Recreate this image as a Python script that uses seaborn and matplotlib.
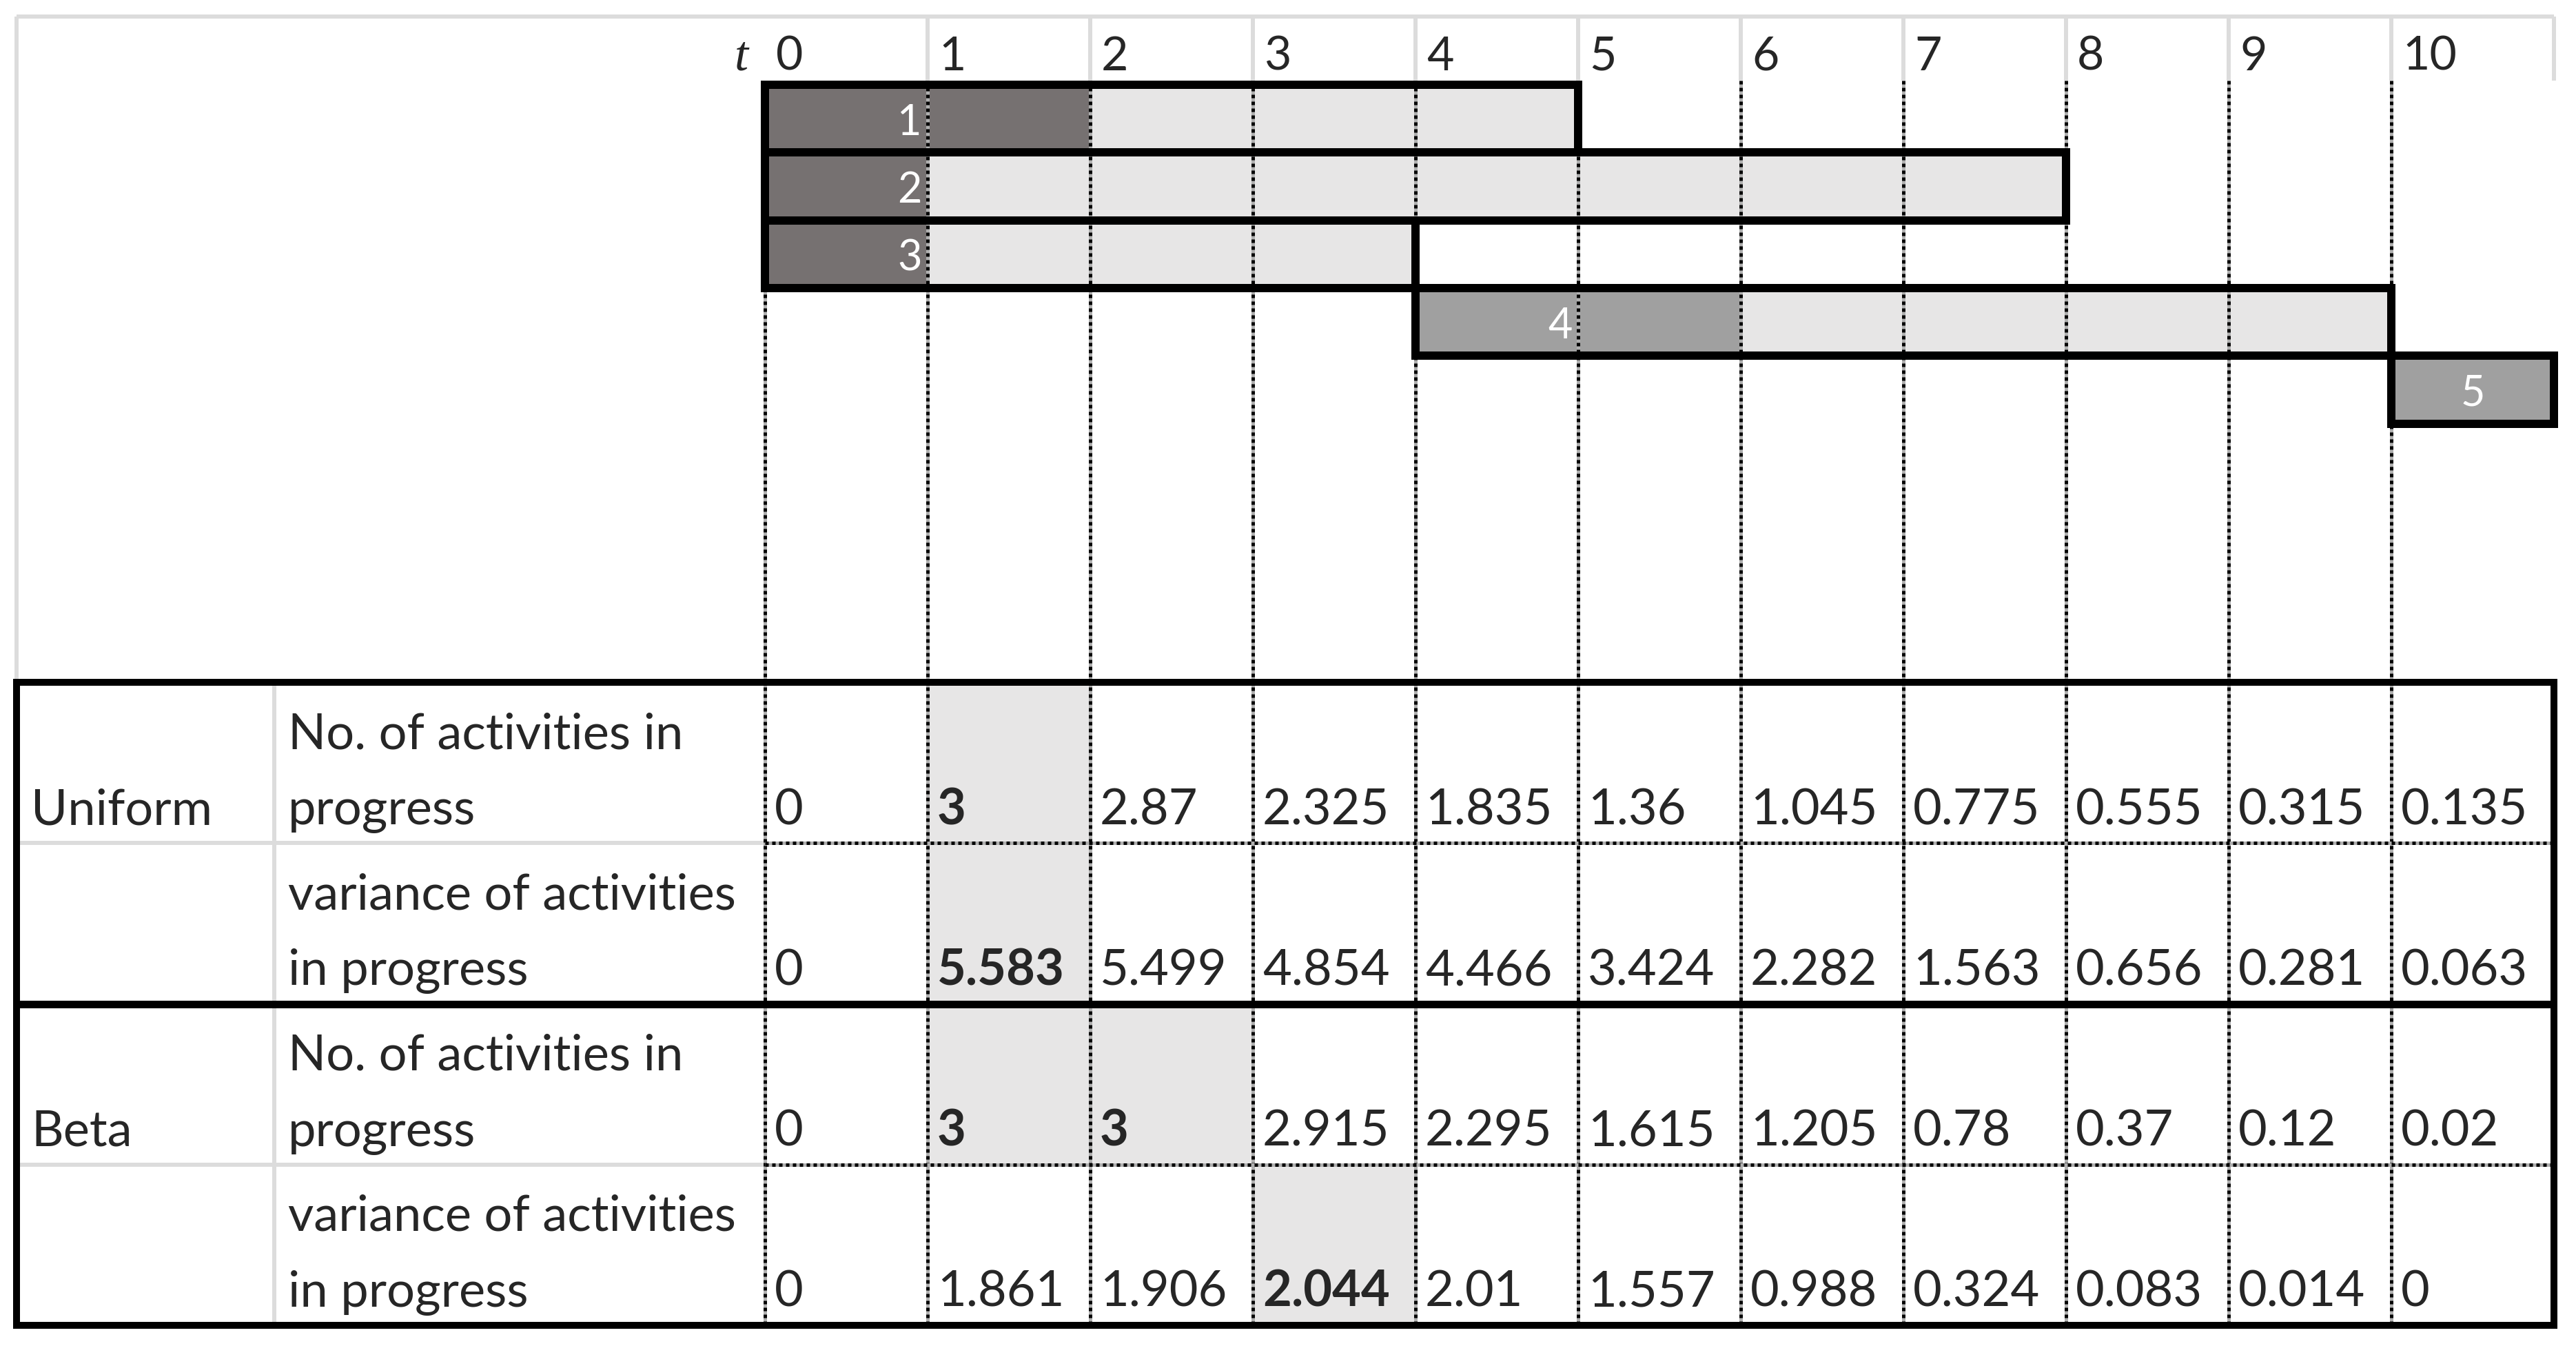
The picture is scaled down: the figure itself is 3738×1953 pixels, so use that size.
import matplotlib.pyplot as plt
import pandas as pd
import seaborn as sns
from matplotlib.colors import ListedColormap


# activities on the time line
activity_ids = [1, 2, 3, 4, 5]
activity_start = [0, 0, 0, 4, 10]
activity_finish = [5, 8, 4, 10, 11]
shaded_until = [2, 1, 1, 6, 11]

time_steps = list(range(11))

uniform_count = [0, 3, 2.87, 2.325, 1.835, 1.36, 1.045, 0.775, 0.555, 0.315, 0.135]
uniform_var = [0, 5.583, 5.499, 4.854, 4.466, 3.424, 2.282, 1.563, 0.656, 0.281, 0.063]
beta_count = [0, 3, 3, 2.915, 2.295, 1.615, 1.205, 0.78, 0.37, 0.12, 0.02]
beta_var = [0, 1.861, 1.906, 2.044, 2.01, 1.557, 0.988, 0.324, 0.083, 0.014, 0]

distributions = ["Uniform", "Beta"]
measure_labels = [["No. of activities in", "progress"],
                  ["variance of activities", "in progress"]]

sns.set_theme(style="white")
plt.rcParams["font.family"] = ["Lato", "DejaVu Sans"]

DARK = "#767171"
MID = "#a0a0a0"
LIGHT = "#e7e6e6"
GRID = "#dcdcdc"

# layout in pixels of the output image
W, H = 3738, 1953
T0, COL = 1110, 236.0
EDGE = 24
HEAD_B = 117
BAR_TOP, BAR_H = 123, 98.3
TAB_T, TAB_ROW = 990, 233.25
LABEL_SPLIT = 398
n_t = len(time_steps)  # right edge of the time grid
TAB_B = TAB_T + 4 * TAB_ROW
PT = 0.72  # points per pixel at dpi 100


def tx(px):
    return (px - T0) / COL


table_df = pd.DataFrame(
    [uniform_count, uniform_var, beta_count, beta_var], columns=time_steps
)
is_max = table_df.eq(table_df.max(axis=1), axis=0)

fig = plt.figure(figsize=(W / 100, H / 100), dpi=100, facecolor="white")

# highlighted cells of the table via a heatmap
tab_ax = fig.add_axes([T0 / W, 1 - TAB_B / H, n_t * COL / W, (TAB_B - TAB_T) / H])
sns.heatmap(is_max.astype(int), ax=tab_ax, cmap=ListedColormap(["white", LIGHT]),
            vmin=0, vmax=1, cbar=False, xticklabels=False, yticklabels=False,
            linewidths=0)
tab_ax.set_zorder(0)

ax = fig.add_axes([0, 0, 1, 1])
ax.set_zorder(1)
ax.patch.set_visible(False)
ax.set_xlim(tx(0), tx(W))
ax.set_ylim(H, 0)
ax.axis("off")

# bar fills
for i, (s, f, d) in enumerate(zip(activity_start, activity_finish, shaded_until)):
    y = BAR_TOP + i * BAR_H
    ax.barh(y, d - s, left=s, height=BAR_H, align="edge",
            color=DARK if s == 0 else MID, linewidth=0, zorder=1)
    if f > d:
        ax.barh(y, f - d, left=d, height=BAR_H, align="edge",
                color=LIGHT, linewidth=0, zorder=1)

# grey sheet lines
ax.hlines(EDGE, tx(EDGE), n_t, colors=GRID, lw=6 * PT, zorder=2)
ax.vlines(tx(EDGE), EDGE, TAB_T, colors=GRID, lw=6 * PT, zorder=2)
ax.vlines(range(1, n_t + 1), EDGE, HEAD_B, colors=GRID, lw=6 * PT, zorder=2)
ax.vlines(tx(LABEL_SPLIT), TAB_T, TAB_B, colors=GRID, lw=6 * PT, zorder=2)
for r in (1, 3):
    ax.hlines(TAB_T + r * TAB_ROW, tx(EDGE), 0, colors=GRID, lw=6 * PT, zorder=2)

# dotted cell borders
ax.vlines(time_steps, HEAD_B, TAB_B, colors="#b0b0b0", lw=5 * PT, zorder=3)
ax.vlines(time_steps, HEAD_B, TAB_B, colors="black", lw=5 * PT,
          linestyles=(0, (1, 1)), zorder=3)
for r in (1, 3):
    yy = TAB_T + r * TAB_ROW
    ax.hlines(yy, 0, n_t, colors="#b0b0b0", lw=5 * PT, zorder=3)
    ax.hlines(yy, 0, n_t, colors="black", lw=5 * PT, linestyles=(0, (1, 1)), zorder=3)

# bar outlines and labels
for i, (a, s, f) in enumerate(zip(activity_ids, activity_start, activity_finish)):
    y = BAR_TOP + i * BAR_H
    ax.barh(y, f - s, left=s, height=BAR_H, align="edge", fill=False,
            edgecolor="black", linewidth=12 * PT, zorder=4)
    ax.text(min(s + 0.89, (s + f) / 2), y + BAR_H / 2 + 6, str(a), color="white",
            fontsize=44, ha="center", va="center", zorder=5)

# header
ax.text(tx(1086), 102, "t", fontsize=52, fontstyle="italic",
        family=["Liberation Serif", "DejaVu Serif"], ha="right", va="baseline")
for t in time_steps:
    ax.text(t + 16 / COL, 102, str(t), fontsize=49, ha="left", va="baseline")

# table frame
ax.add_patch(plt.Rectangle((tx(EDGE), TAB_T), n_t - tx(EDGE), TAB_B - TAB_T,
                           fill=False, edgecolor="black", lw=10 * PT, zorder=6))
ax.hlines(TAB_T + 2 * TAB_ROW, tx(EDGE), n_t, colors="black", lw=11 * PT, zorder=6)

# table text
for r, row_name in enumerate(table_df.index):
    base = TAB_T + (r + 1) * TAB_ROW - 27
    if r % 2 == 0:
        ax.text(tx(45), base, distributions[r // 2], fontsize=52,
                ha="left", va="baseline", zorder=7)
    first, second = measure_labels[r % 2]
    ax.text(tx(418), base - 110, first, fontsize=52, ha="left", va="baseline", zorder=7)
    ax.text(tx(418), base, second, fontsize=52, ha="left", va="baseline", zorder=7)
    for t in time_steps:
        v = table_df.loc[row_name, t]
        ax.text(t + 14 / COL, base, f"{v:g}", fontsize=52,
                fontweight="bold" if is_max.loc[row_name, t] else "normal",
                ha="left", va="baseline", zorder=7)

fig.savefig("out.png", dpi=100, facecolor="white")
